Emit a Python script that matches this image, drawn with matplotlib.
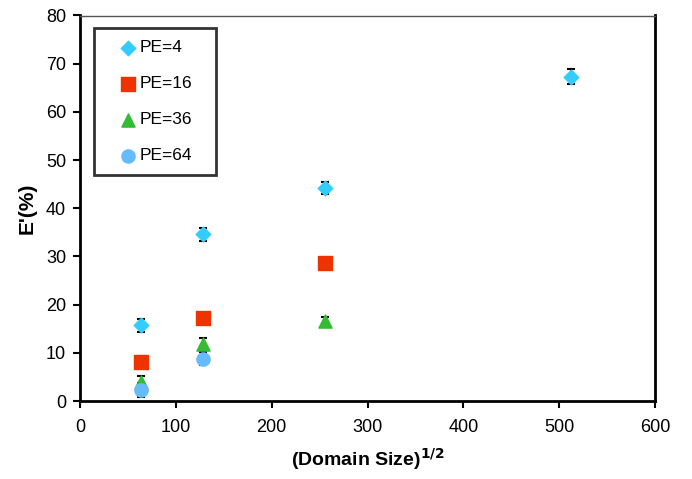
import matplotlib.pyplot as plt

plt.rcParams['font.family'] = ['Liberation Sans', 'DejaVu Sans']

# data
x_pe4 = [64, 128, 256, 512]
y_pe4 = [15.7, 34.6, 44.2, 67.3]
e_pe4 = [1.4, 1.4, 1.3, 1.5]

x_pe16 = [64, 128, 256]
y_pe16 = [8.1, 17.2, 28.7]
e_pe16 = [1.3, 1.0, 0.6]

x_pe36 = [64, 128, 256]
y_pe36 = [3.9, 11.9, 16.5]
e_pe36 = [1.2, 1.2, 1.0]

x_pe64 = [64, 128]
y_pe64 = [2.3, 8.8]
e_pe64 = [1.4, 1.3]

fig = plt.figure(figsize=(6.92, 4.79), dpi=100)
ax = fig.add_axes([80/692, 78/479, 575/692, 385.5/479])

eb = dict(fmt='none', ecolor='black', elinewidth=1.2, capsize=3, capthick=1.5, zorder=2)
ax.errorbar(x_pe4, y_pe4, yerr=e_pe4, **eb)
ax.errorbar(x_pe16, y_pe16, yerr=e_pe16, **eb)
ax.errorbar(x_pe36, y_pe36, yerr=e_pe36, **eb)
ax.errorbar(x_pe64, y_pe64, yerr=e_pe64, **eb)

ax.scatter(x_pe4, y_pe4, marker='D', s=55, color='#33CCFF', label='PE=4', zorder=3)
ax.scatter(x_pe16, y_pe16, marker='s', s=95, color='#EE3300', label='PE=16', zorder=3)
ax.scatter(x_pe36, y_pe36, marker='^', s=90, color='#33BB33', label='PE=36', zorder=3)
ax.scatter(x_pe64, y_pe64, marker='o', s=90, color='#66BBFF', label='PE=64', zorder=3)

ax.set_xlim(0, 600)
ax.set_ylim(0, 80)
ax.set_xticks(range(0, 601, 100))
ax.set_yticks(range(0, 81, 10))
ax.spines['top'].set_linewidth(1)
ax.spines['top'].set_color('#555555')
ax.spines['right'].set_linewidth(2)
ax.spines['left'].set_linewidth(2)
ax.spines['bottom'].set_linewidth(2)
ax.tick_params(width=1.5, length=5, labelsize=13)
ax.tick_params(axis='x', pad=8)
ax.tick_params(axis='y', pad=5)

ax.set_xlabel('(Domain Size)$^{\\mathbf{1/2}}$', fontsize=14, fontweight='bold', labelpad=7)
ax.set_ylabel("E'(%)", fontsize=15, fontweight='bold', labelpad=7)

leg = ax.legend(loc='upper left', bbox_to_anchor=(0.0243, 0.5, 0.2122, 0.4676), mode='expand',
                fontsize=12.5, frameon=True, fancybox=False, labelspacing=1.2,
                handletextpad=-0.55, borderpad=0.7, borderaxespad=0, handlelength=2.5,
                scatterpoints=1)
leg.get_frame().set_edgecolor('black')
leg.get_frame().set_linewidth(2)

fig.savefig('out.png', dpi=100)
